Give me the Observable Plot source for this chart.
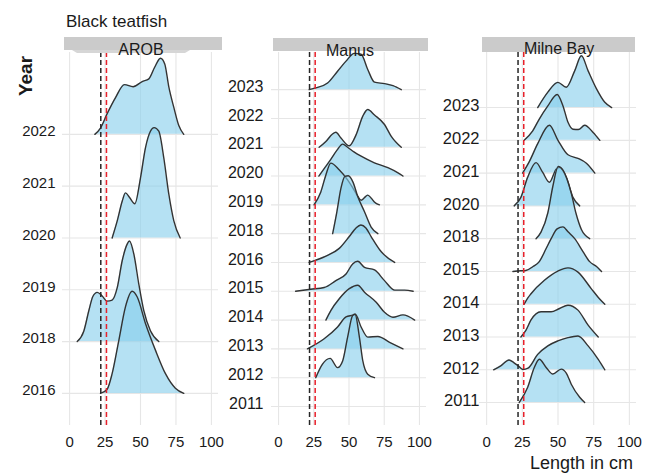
<!DOCTYPE html>
<html>
<head>
<meta charset="utf-8">
<script src="https://cdn.jsdelivr.net/npm/d3@7"></script>
<script src="https://cdn.jsdelivr.net/npm/@observablehq/plot@0.6"></script>
<style>
  body { margin: 0; background: #fff; }
  #chart { position: relative; width: 651px; height: 475px; overflow: hidden;
           font-family: "Liberation Sans", Arial, sans-serif; color: #1a1a1a; }
  #chart svg.panel { position: absolute; top: 0; }
  #overlay { position: absolute; left: 0; top: 0; }
</style>
</head>
<body>
<div id="chart"></div>
<script>
// Length axis ticks (cm) and reference size lines (cm)
const lengthTicks = [0, 25, 50, 75, 100];
const refLengths = [22, 26];

// Rows (years) shown for each region, bottom to top
const arobYears  = [2016, 2018, 2019, 2020, 2021, 2022];
const manusYears = [2011, 2012, 2013, 2014, 2015, 2016, 2018, 2019, 2020, 2021, 2022, 2023];
const milneYears = [2011, 2012, 2013, 2014, 2015, 2018, 2020, 2021, 2022, 2023];

// Density ridges: [length in cm, ridge height in row units]
const arobRidges = {
  2022: [[17.8,0],[21.8,0.12],[26.5,0.4],[32.4,0.71],[38.7,0.96],[44.8,0.92],[51.2,1.02],[55.9,1.07],[59.9,1.29],[64.1,1.47],[67.1,1.36],[70,0.91],[73.5,0.52],[77,0.17],[80.5,0]],
  2020: [[30,0],[33.6,0.33],[37.1,0.71],[39.4,0.87],[42.3,0.78],[46,0.66],[50,1.16],[53.5,1.74],[57,2.06],[59.6,2.13],[62.9,2.06],[66.4,1.55],[70,0.84],[73.5,0.33],[78,0]],
  2018: [[5.4,0],[10,0.2],[13.6,0.6],[16.4,0.87],[19.5,0.95],[23,0.88],[26.5,0.78],[30,0.8],[33.6,1.04],[37.1,1.56],[40.6,1.88],[42.2,1.94],[45.3,1.69],[48.8,1.11],[52.3,0.6],[57,0.21],[62.9,0]],
  2016: [[21.8,0],[26.5,0.08],[30,0.38],[34.7,1.02],[39.4,1.67],[44.1,1.97],[47.7,1.86],[53.5,1.35],[60.6,0.83],[67.6,0.38],[74.6,0.1],[80.5,0]]
};
const manusRidges = {
  2023: [[21.7,0],[26.4,0.06],[34.8,0.23],[41.9,0.64],[47.9,0.99],[53.8,1.26],[58.6,1.23],[63.3,0.7],[68.1,0.26],[75.2,0.21],[81.2,0.14],[87.1,0]],
  2021: [[28.8,0],[33.6,0.2],[38.3,0.46],[40.7,0.52],[44.3,0.32],[50.2,0.05],[55,0.43],[59.8,1.08],[63.3,1.31],[68.1,1.12],[75.2,0.79],[80,0.38],[87.1,0]],
  2020: [[28.6,0],[33,0.3],[37.1,0.58],[41.5,0.9],[45.5,1.11],[49,1.0],[53.5,0.84],[58.6,0.69],[68,0.46],[77.6,0.29],[84.8,0.11],[88.3,0]],
  2019: [[25.2,0],[30,0.45],[33.6,1.04],[37.1,1.45],[43,1.22],[49,0.87],[52.6,0.6],[56.2,0.3],[58.6,0.16],[61,0.25],[63.3,0.34],[66,0.22],[68,0.1],[71.6,0]],
  2018: [[38.4,0],[41.4,0.76],[44.3,1.58],[47.1,1.99],[49.5,2.01],[52.9,1.78],[56.2,1.29],[61,0.76],[65.7,0.23],[70.5,0]],
  2016: [[21.7,0],[26.4,0.08],[34.8,0.25],[43.1,0.49],[50.2,0.9],[55,1.2],[58.4,1.3],[62,1.2],[65.7,0.9],[72.9,0.37],[82.4,0]],
  2015: [[12.1,0],[22.9,0.07],[32.4,0.13],[40.7,0.37],[47.9,0.6],[52.6,0.95],[56.2,1.04],[61,0.83],[68.1,0.74],[75.2,0.37],[82.4,0.04],[89.5,0.04],[95.5,0]],
  2014: [[33.6,0],[37.1,0.33],[43.1,0.74],[50.2,1.09],[56.2,1.21],[61,0.97],[69.3,0.62],[75.2,0.27],[81.2,0.1],[88.3,0.18],[96.6,0]],
  2013: [[20.5,0],[32.4,0.35],[41.9,0.76],[47.9,1.11],[52.6,1.17],[54.5,1.2],[58.6,0.76],[63.3,0.41],[70.5,0.43],[78.8,0.23],[88.3,0]],
  2012: [[26.4,0],[31.2,0.47],[36.6,0.67],[41.9,0.35],[45.5,0.58],[49,1.4],[52.6,2.16],[54.3,2.2],[57.4,1.4],[59.8,0.58],[63.3,0.12],[68.1,0]]
};
const milneRidges = {
  2023: [[35.8,0],[42.9,0.47],[49.9,0.77],[55.8,0.62],[61.7,1.12],[66.4,1.58],[71.1,1.12],[77,0.57],[82.8,0.16],[87.6,0]],
  2022: [[26.3,0],[32.3,0.29],[36.9,0.65],[42.9,1.05],[49.4,1.4],[53.5,1.05],[57,0.55],[60.5,0.34],[64.3,0.33],[68.7,0.46],[74.6,0.24],[79.3,0]],
  2021: [[25.2,0],[29.9,0.35],[35.8,0.9],[44,1.46],[49.9,1.01],[57,0.56],[64,0.45],[69.9,0.3],[75.8,0]],
  2020: [[19.3,0],[24,0.26],[28.7,0.87],[34.6,1.32],[39.3,1.02],[44,0.72],[48.7,1.12],[51.1,1.17],[55.8,0.87],[60.5,0.26],[65.2,0]],
  2018: [[34.6,0],[38.1,0.2],[42.9,0.79],[46.4,1.6],[50.1,2.2],[53.5,2.09],[59.3,1.39],[62.5,0.79],[66.4,0.28],[72.2,0]],
  2015: [[18.4,0],[24,0.02],[27.5,0.03],[32.5,0.15],[36.9,0.3],[41.7,0.7],[45.2,1.0],[49.4,1.3],[53.5,1.36],[57.2,1.2],[61.7,1.0],[67.6,0.6],[72.2,0.3],[77,0.15],[80.5,0]],
  2014: [[26.3,0],[29,0.2],[31.1,0.32],[40.5,0.73],[49.9,1.01],[57,1.11],[64,0.98],[73.4,0.47],[78.4,0.2],[82.8,0]],
  2013: [[24,0],[27.5,0.2],[31.1,0.52],[38.1,0.77],[45.2,0.77],[51.1,0.87],[57,0.97],[64,0.82],[71.1,0.36],[78.2,0]],
  2012: [[4.9,0],[9.9,0.12],[15.7,0.3],[19,0.22],[22.1,0.12],[25.4,0.01],[29,0.05],[35.8,0.47],[42.9,0.73],[49.9,0.88],[57,0.98],[64,1.03],[71.1,0.73],[78.2,0.32],[82.8,0]],
  2011: [[22.8,0],[28.7,0.46],[33.4,1.07],[36.9,1.32],[41.7,1.07],[46.4,0.87],[52.3,1.02],[55.8,0.9],[59.3,0.56],[65.2,0.16],[68.7,0]]
};

// Panel layout: one Plot per region, each with its own year axis
const panels = [
  {name: "AROB",      years: arobYears,  ridges: arobRidges,  left: 0,   width: 222, ml: 62, mr: 4,
   yDomain: [-0.62, 6.58],  yPad: 7, yFont: 15,   yDy: -3,
   strip: {x0: 64, x1: 222, y0: 37, y1: 50, cx: 141, base: 55, tab: true}},
  {name: "Manus",     years: manusYears, ridges: manusRidges, left: 222, width: 206, ml: 49, mr: 2,
   yDomain: [-0.66, 12.29], yPad: 8, yFont: 16,   yDy: -3,
   strip: {x0: 273, x1: 428, y0: 38, y1: 51, cx: 350, base: 56}},
  {name: "Milne Bay", years: milneYears, ridges: milneRidges, left: 430, width: 207, ml: 49, mr: 1,
   yDomain: [-0.70, 10.68], yPad: 0, yFont: 16.5, yDy: -1.5,
   strip: {x0: 482, x1: 635, y0: 37, y1: 52, cx: 559, base: 54}}
];

const chart = document.getElementById("chart");
const gridColor = "#e6e6e6";

for (const p of panels) {
  const rows = p.years.map((_, i) => i);
  const marks = [
    Plot.ruleX(lengthTicks, {stroke: gridColor, strokeWidth: 1.1}),
    Plot.ruleY(rows, {stroke: gridColor, strokeWidth: 1.1})
  ];
  // draw from the top row down so lower ridges overlay the ones above
  const ridgeYears = Object.keys(p.ridges).map(Number).sort((a, b) => b - a);
  for (const yr of ridgeYears) {
    const r = p.years.indexOf(yr);
    const pts = p.ridges[yr].map(([x, h]) => ({x, top: r + h, r}));
    marks.push(Plot.areaY(pts, {x: "x", y1: "r", y2: "top", fill: "#87ceeb", fillOpacity: 0.62, curve: "monotone-x"}));
    marks.push(Plot.lineY(pts, {x: "x", y: "top", stroke: "#333333", strokeWidth: 1.4, curve: "monotone-x"}));
  }
  marks.push(Plot.ruleX([refLengths[0]], {stroke: "#262626", strokeWidth: 1.5, strokeDasharray: "5,3"}));
  marks.push(Plot.ruleX([refLengths[1]], {stroke: "#e8202a", strokeWidth: 1.5, strokeDasharray: "5,3"}));
  marks.push(Plot.axisX({ticks: lengthTicks, tickSize: 0, tickPadding: 11, fontSize: 15, label: null}));
  marks.push(Plot.axisY({ticks: rows, tickFormat: i => String(p.years[i]), tickSize: 0, tickPadding: p.yPad,
                         fontSize: p.yFont, dy: p.yDy, label: null}));

  const svg = Plot.plot({
    width: p.width,
    height: 460,
    marginTop: 52,
    marginBottom: 35,
    marginLeft: p.ml,
    marginRight: p.mr,
    x: {domain: [-5, 105], label: null},
    y: {domain: p.yDomain, label: null},
    style: {fontFamily: "'Liberation Sans', Arial, sans-serif", color: "#1a1a1a", background: "transparent", overflow: "visible"},
    marks
  });
  svg.classList.add("panel");
  svg.style.left = p.left + "px";
  chart.appendChild(svg);
}

// Titles, strips and axis titles
const overlay = d3.select(chart).append("svg")
  .attr("id", "overlay").attr("width", 651).attr("height", 475)
  .style("font-family", "'Liberation Sans', Arial, sans-serif");

overlay.append("text").attr("x", 66).attr("y", 26.5)
  .attr("font-size", 17).attr("fill", "#1a1a1a").text("Black teatfish");

overlay.append("text").attr("transform", "translate(32,76) rotate(-90)")
  .attr("text-anchor", "middle").attr("font-size", 19).attr("font-weight", "bold")
  .attr("fill", "#1a1a1a").text("Year");

overlay.append("text").attr("x", 530).attr("y", 469)
  .attr("font-size", 18).attr("fill", "#1a1a1a").text("Length in cm");

for (const p of panels) {
  const s = p.strip;
  overlay.append("rect").attr("x", s.x0).attr("y", s.y0)
    .attr("width", s.x1 - s.x0).attr("height", s.y1 - s.y0).attr("fill", "#cbcbcb");
  if (s.tab) {
    overlay.append("polygon")
      .attr("points", `${s.x0 + 8},${s.y1} ${s.x0 + 126},${s.y1} ${s.x0 + 121},${s.y1 + 3} ${s.x0 + 13},${s.y1 + 3}`)
      .attr("fill", "#d6d6d6");
  }
  overlay.append("text").attr("x", s.cx).attr("y", s.base)
    .attr("text-anchor", "middle").attr("font-size", 16).attr("fill", "#1a1a1a").text(p.name);
}
</script>
</body>
</html>
